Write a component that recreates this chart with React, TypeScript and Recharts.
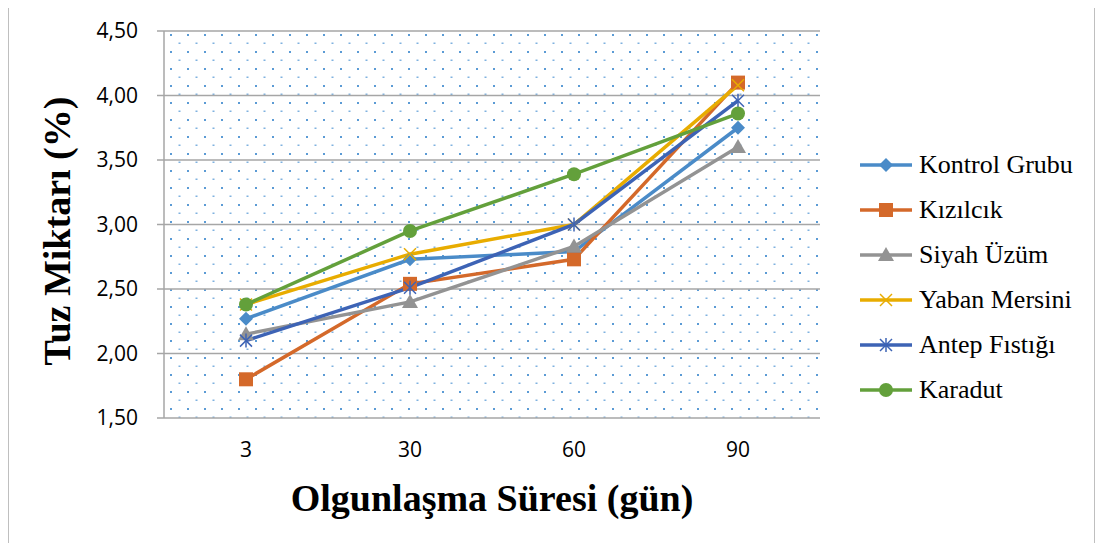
import { LineChart, Line, XAxis, YAxis, CartesianGrid } from 'recharts';

const days = ['3', '30', '60', '90'];
const kontrol = [2.27, 2.73, 2.79, 3.75];
const kizilcik = [1.8, 2.54, 2.73, 4.1];
const siyahUzum = [2.15, 2.4, 2.83, 3.6];
const yabanMersini = [2.38, 2.77, 3.0, 4.08];
const antepFistigi = [2.1, 2.51, 3.0, 3.96];
const karadut = [2.38, 2.95, 3.39, 3.86];
const yTicks = [1.5, 2, 2.5, 3, 3.5, 4, 4.5];

type Shape = 'diamond' | 'square' | 'triangle' | 'x' | 'star' | 'circle';

const series: { key: string; name: string; values: number[]; color: string; shape: Shape }[] = [
  { key: 'kontrol', name: 'Kontrol Grubu', values: kontrol, color: '#4A8BC8', shape: 'diamond' },
  { key: 'kizilcik', name: 'Kızılcık', values: kizilcik, color: '#D4692A', shape: 'square' },
  { key: 'siyah', name: 'Siyah Üzüm', values: siyahUzum, color: '#939393', shape: 'triangle' },
  { key: 'yaban', name: 'Yaban Mersini', values: yabanMersini, color: '#E8AC00', shape: 'x' },
  { key: 'antep', name: 'Antep Fıstığı', values: antepFistigi, color: '#3D63B5', shape: 'star' },
  { key: 'karadut', name: 'Karadut', values: karadut, color: '#63A03B', shape: 'circle' },
];

const data = days.map((d, i) => {
  const row: Record<string, string | number> = { day: d };
  series.forEach((s) => {
    row[s.key] = s.values[i];
  });
  return row;
});

function Marker({ cx, cy, shape, color }: { cx: number; cy: number; shape: Shape; color: string }) {
  switch (shape) {
    case 'diamond':
      return <polygon points={`${cx},${cy - 7} ${cx + 7},${cy} ${cx},${cy + 7} ${cx - 7},${cy}`} fill={color} />;
    case 'square':
      return <rect x={cx - 7} y={cy - 7} width={14} height={14} fill={color} />;
    case 'triangle':
      return <polygon points={`${cx},${cy - 8} ${cx + 8},${cy + 6} ${cx - 8},${cy + 6}`} fill={color} />;
    case 'x':
      return (
        <g stroke={color} strokeWidth={1.5}>
          <line x1={cx - 6} y1={cy - 6} x2={cx + 6} y2={cy + 6} />
          <line x1={cx - 6} y1={cy + 6} x2={cx + 6} y2={cy - 6} />
        </g>
      );
    case 'star':
      return (
        <g stroke={color} strokeWidth={1.5}>
          <line x1={cx - 6} y1={cy - 6} x2={cx + 6} y2={cy + 6} />
          <line x1={cx - 6} y1={cy + 6} x2={cx + 6} y2={cy - 6} />
          <line x1={cx} y1={cy - 7} x2={cx} y2={cy + 7} />
        </g>
      );
    default:
      return <circle cx={cx} cy={cy} r={7} fill={color} />;
  }
}

const fmt = (v: number) => v.toFixed(2).replace('.', ',');

export default function App() {
  return (
    <div style={{ position: 'relative', width: 1103, height: 551, margin: -8, background: '#fff' }}>
      <div
        style={{
          position: 'absolute',
          left: 8,
          top: 1,
          width: 1087,
          height: 547,
          border: '1.5px solid #BFBFBF',
          boxSizing: 'border-box',
        }}
      />
      <div style={{ position: 'absolute', left: 0, top: 0 }}>
        <LineChart width={1103} height={551} data={data} margin={{ top: 31, right: 283, bottom: 93, left: 0 }}>
          <defs>
            <pattern id="dots" width={17} height={17} patternUnits="userSpaceOnUse">
              <rect x={0} y={0} width={2} height={2} fill="#5B9BD5" />
              <rect x={8.5} y={8.5} width={2} height={1.5} fill="#7FB2E0" />
            </pattern>
          </defs>
          <CartesianGrid vertical={false} fill="url(#dots)" stroke="#A6A6A6" strokeWidth={1.5} />
          <XAxis
            xAxisId="ticks"
            type="number"
            domain={[0, 4]}
            ticks={[0, 1, 2, 3, 4]}
            height={0}
            tickSize={8}
            tickFormatter={() => ''}
            stroke="#A6A6A6"
            strokeWidth={1.5}
          />
          <XAxis
            dataKey="day"
            scale="band"
            height={40}
            axisLine={false}
            tickLine={false}
            tickSize={0}
            tickMargin={24}
            tick={{ fontSize: 21, fill: '#000', fontFamily: '"Open Sans", sans-serif' }}
          />
          <YAxis
            domain={[1.5, 4.5]}
            ticks={yTicks}
            width={164}
            tickSize={7}
            tickMargin={19}
            stroke="#A6A6A6"
            strokeWidth={1.5}
            tickFormatter={fmt}
            tick={{ fontSize: 21, fill: '#000', fontFamily: '"Open Sans", sans-serif' }}
          />
          {series.map((s) => (
            <Line
              key={s.key}
              dataKey={s.key}
              name={s.name}
              stroke={s.color}
              strokeWidth={3.5}
              isAnimationActive={false}
              dot={(p: any) => (
                <Marker key={`${s.key}-${p.index}`} cx={p.cx} cy={p.cy} shape={s.shape} color={s.color} />
              )}
              activeDot={false}
            />
          ))}
        </LineChart>
      </div>
      <div
        style={{
          position: 'absolute',
          left: 492,
          top: 498,
          transform: 'translate(-50%, -50%)',
          whiteSpace: 'nowrap',
          fontFamily: '"Liberation Serif", serif',
          fontWeight: 'bold',
          fontSize: 38,
        }}
      >
        Olgunlaşma Süresi (gün)
      </div>
      <div
        style={{
          position: 'absolute',
          left: 57,
          top: 231,
          transform: 'translate(-50%, -50%) rotate(-90deg)',
          whiteSpace: 'nowrap',
          fontFamily: '"Liberation Serif", serif',
          fontWeight: 'bold',
          fontSize: 38,
        }}
      >
        Tuz Miktarı (%)
      </div>
      <div style={{ position: 'absolute', left: 858, top: 142 }}>
        {series.map((s) => (
          <div key={s.key} style={{ display: 'flex', alignItems: 'center', height: 45 }}>
            <svg width={56} height={20}>
              <line x1={2} y1={10} x2={54} y2={10} stroke={s.color} strokeWidth={3.5} />
              <Marker cx={28} cy={10} shape={s.shape} color={s.color} />
            </svg>
            <span
              style={{
                marginLeft: 5,
                fontFamily: '"Liberation Serif", serif',
                fontSize: 26,
                color: '#000',
              }}
            >
              {s.name}
            </span>
          </div>
        ))}
      </div>
    </div>
  );
}
